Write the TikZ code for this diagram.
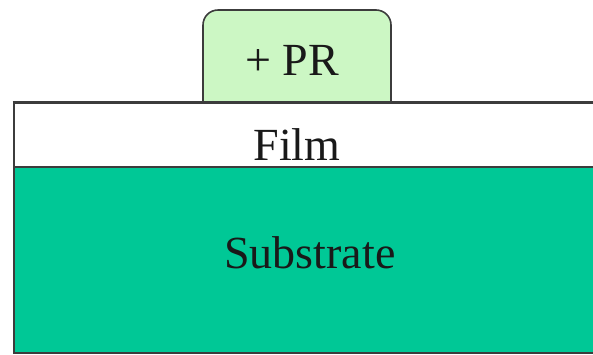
\documentclass[tikz,border=0pt]{standalone}
\usepackage{fontspec}
\setmainfont{Liberation Serif}
\definecolor{subgreen}{RGB}{0,200,150}
\definecolor{prgreen}{RGB}{204,247,196}
\definecolor{edge}{RGB}{60,60,60}
\begin{document}
\begin{tikzpicture}[x=1pt,y=-1pt,
  layer/.style={draw=edge,line width=2pt,inner sep=0pt,anchor=north west},
  lbl/.style={font=\fontsize{46}{46}\selectfont,text=black!90,inner sep=0pt,anchor=base}]
  \useasboundingbox (0,0) rectangle (593,354);
  \clip (0,0) rectangle (593,354);
  % substrate and film layers, running off the right side
  \node[layer,fill=subgreen,minimum width=600pt,minimum height=186pt] (substrate) at (12.5,166) {};
  \node[layer,fill=white,minimum width=600pt,minimum height=64pt] (film) at (12.5,102) {};
  % resist block with rounded top corners
  \coordinate (prbl) at (203,102);
  \coordinate (prbr) at (391,102);
  \draw[draw=edge,line width=1.6pt,fill=prgreen,rounded corners=15pt]
    (prbl) -- (203,10) -- (391,10) -- (prbr);
  \draw[draw=edge,line width=2pt] (film.north west) -- (film.north east);
  % labels
  \node[lbl] (prlabel) at (292,75) {+ PR};
  \node[lbl] (filmlabel) at (297,160) {Film};
  \node[lbl] (sublabel) at (310,268) {Substrate};
\end{tikzpicture}
\end{document}
